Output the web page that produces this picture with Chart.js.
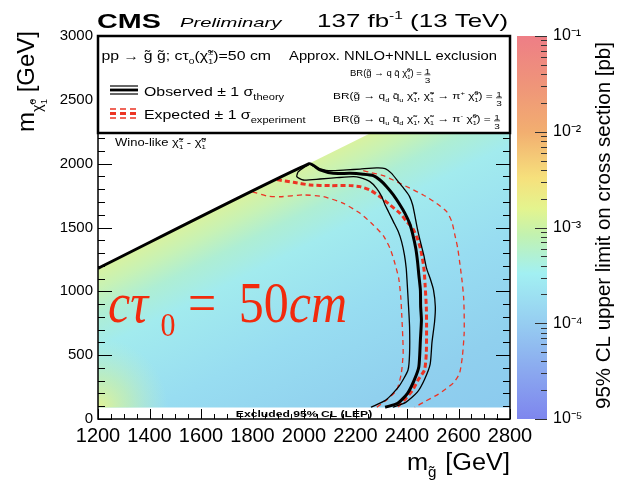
<!DOCTYPE html>
<html><head><meta charset="utf-8">
<script src="https://cdn.jsdelivr.net/npm/chart.js@4.4.0/dist/chart.umd.min.js"></script>
<style>html,body{margin:0;padding:0;background:#fff;overflow:hidden}#wrap{position:relative;width:621px;height:480px}canvas{position:absolute;left:0;top:0}</style>
</head><body><div id="wrap"><canvas id="main" width="621" height="480"></canvas><canvas id="cbar" width="621" height="480"></canvas></div>
<script>
// ---------------- data (GeV) ----------------
const xTickValues = [1200,1400,1600,1800,2000,2200,2400,2600,2800];
const yTickValues = [0,500,1000,1500,2000,2500,3000];
const zTickValues = [1e-5,1e-4,1e-3,1e-2,1e-1];
const zTickLabels = ['10⁻⁵','10⁻⁴','10⁻³','10⁻²','10⁻¹'];
const kinematicEdge = [[1200,1180],[2800,2780]];
const lepLimit = 90;
const observed = [[1200,1180],[2020,2000],[2062,1951],[2114,1924],[2179,1924],[2230,1917],[2269,1906],[2295,1872],[2321,1820],[2347,1755],[2373,1676],[2392,1611],[2410,1533],[2423,1441],[2434,1337],[2441,1232],[2446,1128],[2452,1010],[2453,880],[2456,775],[2452,619],[2446,410],[2428,305],[2402,201],[2364,123],[2315,92]];
const observedUp = [[2020,2000],[2049,1969],[2095,1945],[2166,1951],[2218,1958],[2282,1967],[2315,1962],[2340,1924],[2366,1859],[2392,1794],[2410,1742],[2422,1676],[2430,1598],[2440,1494],[2452,1389],[2465,1285],[2476,1180],[2490,1100],[2503,1010],[2510,880],[2507,760],[2497,600],[2490,430],[2468,310],[2440,210],[2395,130],[2345,92]];
const observedDown = [[2017,1990],[2004,1977],[1978,1937],[1972,1898],[1997,1872],[2062,1880],[2127,1890],[2192,1898],[2218,1890],[2256,1859],[2282,1807],[2302,1742],[2315,1676],[2328,1624],[2347,1546],[2366,1468],[2379,1389],[2390,1285],[2397,1180],[2400,1089],[2406,880],[2410,723],[2410,514],[2404,384],[2368,253],[2318,149],[2260,92]];
const expected = [[1895,1875],[1959,1854],[2023,1833],[2101,1828],[2179,1828],[2218,1820],[2256,1794],[2295,1742],[2334,1676],[2373,1611],[2399,1546],[2422,1494],[2440,1415],[2452,1337],[2462,1232],[2467,1154],[2470,1060],[2475,880],[2476,723],[2475,514],[2468,384],[2443,305],[2422,227],[2390,149],[2360,92]];
const expectedDown = [[1800,1780],[1860,1745],[1907,1741],[1997,1755],[2075,1742],[2153,1689],[2218,1611],[2269,1520],[2308,1436],[2334,1337],[2350,1240],[2368,1100],[2376,950],[2380,800],[2384,620],[2385,514],[2378,358],[2360,227],[2321,149],[2282,92]];
const expectedUp = [[2230,1945],[2256,1932],[2308,1906],[2360,1859],[2412,1807],[2463,1755],[2515,1689],[2554,1624],[2574,1546],[2586,1441],[2597,1337],[2606,1206],[2614,1080],[2620,950],[2622,828],[2622,671],[2615,488],[2604,358],[2580,282],[2522,195],[2472,140],[2430,92]];

// ---------------- helpers ----------------
const SANS = '"Liberation Sans", Arial, Helvetica, sans-serif';
const SERIF = '"Liberation Serif", "Times New Roman", serif';
const RED = 'rgb(236,52,36)';
const sub = t => ({t, s:0.65, dy:0.3});
const sup = t => ({t, s:0.65, dy:-0.42});
const subsup = (b, p) => [{t:p, s:0.6, dy:-0.45, back:true}, {t:b, s:0.6, dy:0.32}];

function rich(ctx, x, y, segs, o) {
  ctx.save();
  ctx.translate(x, y);
  if (o.rot) ctx.rotate(o.rot);
  const sx = o.sx || 1;
  ctx.scale(sx, o.sy || 1);
  ctx.textBaseline = 'alphabetic';
  ctx.textAlign = 'left';
  const fontOf = (sz, s) => `${s.style || o.style || 'normal'} ${s.weight || o.weight || 'normal'} ${sz}px ${s.family || o.family || SANS}`;
  let w = 0;
  const items = segs.map(s => {
    const sz = o.size * (s.s || 1);
    ctx.font = fontOf(sz, s);
    const m = ctx.measureText(s.t).width;
    const it = {s, sz, x: w};
    if (!s.back) w += m + (s.gap || 0) * o.size;
    return it;
  });
  const off = o.align === 'right' ? -w : (o.align === 'center' ? -w / 2 : 0);
  items.forEach(it => {
    ctx.font = fontOf(it.sz, it.s);
    ctx.fillStyle = it.s.color || o.color || '#000';
    ctx.fillText(it.s.t, off + it.x, (it.s.dy || 0) * o.size);
  });
  ctx.restore();
  return x + (off + w) * sx;
}
function seg(ctx, x1, y1, x2, y2) { ctx.beginPath(); ctx.moveTo(x1, y1); ctx.lineTo(x2, y2); ctx.stroke(); }
function hline(ctx, x1, x2, y, w, col, dash) {
  ctx.save(); ctx.setLineDash(dash || []); ctx.lineWidth = w; ctx.strokeStyle = col; seg(ctx, x1, y, x2, y); ctx.restore();
}
function frac(ctx, cx, base, size, sx) {
  rich(ctx, cx, base - 2.5, [{t:'1'}], {size, sx, align:'center'});
  rich(ctx, cx, base + 6.5, [{t:'3'}], {size, sx, align:'center'});
  ctx.save(); ctx.lineWidth = 0.7; ctx.strokeStyle = '#000'; seg(ctx, cx - 3, base - 1.2, cx + 3, base - 1.2); ctx.restore();
}

function heatFill(c) {
  const ch = c.chart;
  if (!ch.chartArea) return 'rgba(0,0,0,0)';
  const X = ch.scales.x, Y = ch.scales.y;
  const p1 = [X.getPixelForValue(kinematicEdge[0][0]), Y.getPixelForValue(kinematicEdge[0][1])];
  const p2 = [X.getPixelForValue(kinematicEdge[1][0]), Y.getPixelForValue(kinematicEdge[1][1])];
  let dx = p2[0] - p1[0], dy = p2[1] - p1[1];
  const L = Math.hypot(dx, dy); dx /= L; dy /= L;
  const nx = -dy, ny = dx;
  const mx = (p1[0] + p2[0]) / 2, my = (p1[1] + p2[1]) / 2;
  const g = ch.ctx.createLinearGradient(mx, my, mx + nx * 300, my + ny * 300);
  g.addColorStop(0, '#d8f2a0');
  g.addColorStop(0.06, '#c8f2b4');
  g.addColorStop(0.14, '#aeeed4');
  g.addColorStop(0.24, '#a2ebee');
  g.addColorStop(0.5, '#98ddf1');
  g.addColorStop(0.8, '#90d0ee');
  g.addColorStop(1, '#8ccbee');
  return g;
}
function cornerFill(c) {
  const ch = c.chart;
  if (!ch.chartArea) return 'rgba(0,0,0,0)';
  const X = ch.scales.x, Y = ch.scales.y;
  const cx = X.getPixelForValue(kinematicEdge[0][0]), cy = Y.getPixelForValue(lepLimit);
  const g = ch.ctx.createRadialGradient(cx, cy, 0, cx, cy, 70);
  g.addColorStop(0, 'rgba(228,243,148,0.98)');
  g.addColorStop(0.45, 'rgba(205,241,165,0.6)');
  g.addColorStop(1, 'rgba(190,240,200,0)');
  return g;
}
function cbarFill(c) {
  const ch = c.chart, a = ch.chartArea;
  if (!a) return '#fff';
  const g = ch.ctx.createLinearGradient(0, a.top, 0, a.bottom);
  g.addColorStop(0, '#ee7e86');
  g.addColorStop(0.13, '#ef9579');
  g.addColorStop(0.25, '#f2ae70');
  g.addColorStop(0.37, '#f6e07c');
  g.addColorStop(0.45, '#e4f48e');
  g.addColorStop(0.52, '#c2f2b0');
  g.addColorStop(0.62, '#a2f0f2');
  g.addColorStop(0.75, '#96cdf1');
  g.addColorStop(0.88, '#8aa7ef');
  g.addColorStop(1, '#7e86ee');
  return g;
}

const pts = arr => arr.map(p => ({x: p[0], y: p[1]}));
function curve(arr, color, width, dash, order) {
  return {type:'line', data: pts(arr), borderColor: color, borderWidth: width, borderDash: dash || [],
    pointRadius: 0, fill: false, tension: 0.2, order, borderCapStyle: 'butt', borderJoinStyle: 'round'};
}

const mainDecor = {
  id: 'mainDecor',
  afterDraw(chart) {
    const {ctx, chartArea: a, scales: {x: X, y: Y}} = chart;
    ctx.save();
    // LEP strip label
    rich(ctx, X.getPixelForValue(2000), a.bottom - 2.5, [{t:'Excluded 95% CL (LEP)'}], {size: 9, weight: 'bold', sx: 1.35, align: 'center'});
    // ticks
    ctx.strokeStyle = '#000'; ctx.lineWidth = 1;
    for (let v = 0; v <= 3000; v += 100) {
      const py = Math.round(Y.getPixelForValue(v)) + 0.5;
      const len = v % 500 === 0 ? 14 : 7;
      seg(ctx, a.left, py, a.left + len, py);
      seg(ctx, a.right, py, a.right - len, py);
    }
    for (let v = 1200; v <= 2800; v += 50) {
      const px = Math.round(X.getPixelForValue(v)) + 0.5;
      const len = v % 200 === 0 ? 10 : 5;
      seg(ctx, px, a.bottom, px, a.bottom - len);
    }
    // frame
    ctx.lineWidth = 1.5;
    ctx.strokeRect(a.left, a.top, a.right - a.left, a.bottom - a.top);
    // legend box
    const L = a.left, T = a.top, R = a.right, lb = T + 97;
    ctx.fillStyle = '#fff';
    ctx.fillRect(L, T, R - L, lb - T);
    ctx.lineWidth = 2.5;
    ctx.strokeRect(L, T, R - L, lb - T);
    rich(ctx, L + 3.5, T + 24, [{t:'pp → g̃ g̃; cτ'}, sub('0'), {t:'(χ̃'}, ...subsup('1', '±'), {t:')=50 cm'}], {size: 12, sx: 1.32});
    rich(ctx, R - 13, T + 24, [{t:'Approx. NNLO+NNLL exclusion'}], {size: 12, sx: 1.23, align: 'right'});
    hline(ctx, L + 12, L + 40, T + 50, 1.2, '#000');
    hline(ctx, L + 12, L + 40, T + 54, 2.8, '#000');
    hline(ctx, L + 12, L + 40, T + 58, 1.2, '#000');
    hline(ctx, L + 12, L + 40, T + 73, 1.3, RED, [6, 4]);
    hline(ctx, L + 12, L + 40, T + 77.5, 2.8, RED, [6, 4]);
    hline(ctx, L + 12, L + 40, T + 82, 1.3, RED, [6, 4]);
    rich(ctx, L + 46, T + 60, [{t:'Observed ± 1 σ'}, {t:'theory', s:0.7, dy:0.3}], {size: 13, sx: 1.22});
    rich(ctx, L + 46, T + 83, [{t:'Expected ± 1 σ'}, {t:'experiment', s:0.7, dy:0.3}], {size: 13, sx: 1.22});
    const bs = 9.5, bx = 1.25;
    let e = rich(ctx, 350, T + 40, [{t:'BR(g̃ → q q̄ χ̃'}, ...subsup('1', '0'), {t:') = '}], {size: bs, sx: 1.0});
    frac(ctx, e + 3, T + 40, 8, bx);
    e = rich(ctx, 333, T + 63, [{t:'BR(g̃ → q'}, sub('d'), {t:' q̄'}, sub('u'), {t:' χ̃'}, ...subsup('1', '+'), {t:', χ̃'}, ...subsup('1', '+'), {t:' → π'}, sup('+'), {t:' χ̃'}, ...subsup('1', '0'), {t:') = '}], {size: bs, sx: bx});
    frac(ctx, e + 3, T + 63, 8, bx);
    e = rich(ctx, 333, T + 86, [{t:'BR(g̃ → q'}, sub('u'), {t:' q̄'}, sub('d'), {t:' χ̃'}, ...subsup('1', '-'), {t:', χ̃'}, ...subsup('1', '-'), {t:' → π'}, sup('-'), {t:' χ̃'}, ...subsup('1', '0'), {t:') = '}], {size: bs, sx: bx});
    frac(ctx, e + 3, T + 86, 8, bx);
    // wino label
    rich(ctx, L + 17, T + 110, [{t:'Wino-like χ̃'}, ...subsup('1', '±'), {t:' - χ̃'}, ...subsup('1', '0')], {size: 10, sx: 1.3});
    // header
    rich(ctx, L - 1, 28, [{t:'CMS'}], {size: 20.5, weight: 'bold', sx: 1.4});
    rich(ctx, L + 82, 27, [{t:'Preliminary'}], {size: 13.5, style: 'italic', sx: 1.5});
    rich(ctx, R - 2, 27, [{t:'137 fb'}, {t:'-1', s:0.6, dy:-0.45}, {t:' (13 TeV)'}], {size: 18.5, sx: 1.4, align: 'right'});
    // axis titles
    rich(ctx, R, 470, [{t:'m'}, {t:'g̃', s:0.6, dy:0.3, gap:0.35}, {t:'[GeV]'}], {size: 23, sx: 1.1, align: 'right'});
    rich(ctx, 34, 31, [{t:'m'}, {t:'χ̃', s:0.6, dy:0.35}, {t:'0', s:0.4, dy:0.1, back:true}, {t:'1', s:0.4, dy:0.55}, {t:' [GeV]'}], {size: 24, rot: -Math.PI / 2, align: 'right'});
    // big annotation
    rich(ctx, 108, 322, [{t:'c', style:'italic'}, {t:'τ', style:'italic', gap:0.25}, {t:'0', s:0.6, dy:0.25, gap:0.25}, {t:'=', gap:0.45}, {t:'50'}, {t:'cm', style:'italic'}], {size: 50, sy: 1.15, family: SERIF, color: '#f22a0c'});
    ctx.restore();
  }
};

const mainChart = new Chart(document.getElementById('main'), {
  type: 'line',
  data: {
    datasets: [
      {data: pts(kinematicEdge), borderWidth: 0, borderColor: 'rgba(0,0,0,0)', backgroundColor: heatFill, fill: {value: lepLimit}, pointRadius: 0, order: 20},
      {data: pts(kinematicEdge), borderWidth: 0, borderColor: 'rgba(0,0,0,0)', backgroundColor: cornerFill, fill: {value: lepLimit}, pointRadius: 0, order: 19},
      curve(expectedDown, RED, 1.3, [5, 4], 6),
      curve(expectedUp, RED, 1.3, [5, 4], 5),
      curve(expected, RED, 3, [5, 3], 4),
      curve(observedDown, '#000', 1.3, [], 3),
      curve(observedUp, '#000', 1.3, [], 2),
      curve(observed, '#000', 3, [], 1)
    ]
  },
  options: {
    responsive: false, animation: false,
    layout: {padding: {left: 0, right: 111, top: 36, bottom: 0}},
    plugins: {legend: {display: false}, tooltip: {enabled: false}},
    scales: {
      x: {type: 'linear', min: 1200, max: 2800,
        afterBuildTicks: s => { s.ticks = xTickValues.map(v => ({value: v})); },
        ticks: {font: {size: 20, family: SANS}, color: '#000', padding: 5, maxRotation: 0, autoSkip: false, callback: v => String(v)},
        grid: {display: false, drawTicks: false}, border: {display: false},
        afterFit: s => { s.height = 61; }},
      y: {type: 'linear', min: 0, max: 3000,
        afterBuildTicks: s => { s.ticks = yTickValues.map(v => ({value: v})); },
        ticks: {font: {size: 15, family: SANS}, color: '#000', padding: 5, callback: v => String(v)},
        grid: {display: false, drawTicks: false}, border: {display: false},
        afterFit: s => { s.width = 98; }}
    }
  },
  plugins: [mainDecor]
});

const cbarDecor = {
  id: 'cbarDecor',
  afterDraw(chart) {
    const {ctx, chartArea: a, scales: {y: Y}} = chart;
    ctx.save();
    ctx.strokeStyle = '#333'; ctx.lineWidth = 1;
    for (let d = -5; d <= -1; d++) {
      const py = Math.round(Y.getPixelForValue(Math.pow(10, d))) + 0.5;
      seg(ctx, a.right, py, a.right - 12, py);
      if (d < -1) for (let k = 2; k <= 9; k++) {
        const q = Math.round(Y.getPixelForValue(k * Math.pow(10, d))) + 0.5;
        seg(ctx, a.right, q, a.right - 6, q);
      }
    }
    rich(ctx, 610, (a.top + a.bottom) / 2 - 2, [{t:'95% CL upper limit on cross section [pb]'}], {size: 20.5, rot: -Math.PI / 2, align: 'center'});
    ctx.restore();
  }
};

const cbarChart = new Chart(document.getElementById('cbar'), {
  type: 'bar',
  data: {labels: ['limit'], datasets: [{data: [[zTickValues[0], zTickValues[zTickValues.length - 1]]], backgroundColor: cbarFill, borderWidth: 0, barPercentage: 1, categoryPercentage: 1}]},
  options: {
    responsive: false, animation: false,
    layout: {padding: {left: 517, right: 0, top: 36, bottom: 61}},
    plugins: {legend: {display: false}, tooltip: {enabled: false}},
    scales: {
      x: {display: false},
      y: {type: 'logarithmic', position: 'right', min: zTickValues[0], max: zTickValues[zTickValues.length - 1],
        afterBuildTicks: s => { s.ticks = zTickValues.map(v => ({value: v})); },
        ticks: {font: {size: 16, family: SANS}, color: '#000', padding: 6, callback: (v, i) => zTickLabels[i]},
        grid: {display: false, drawTicks: false}, border: {display: false},
        afterFit: s => { s.width = 74; }}
    }
  },
  plugins: [cbarDecor]
});
</script></body></html>
